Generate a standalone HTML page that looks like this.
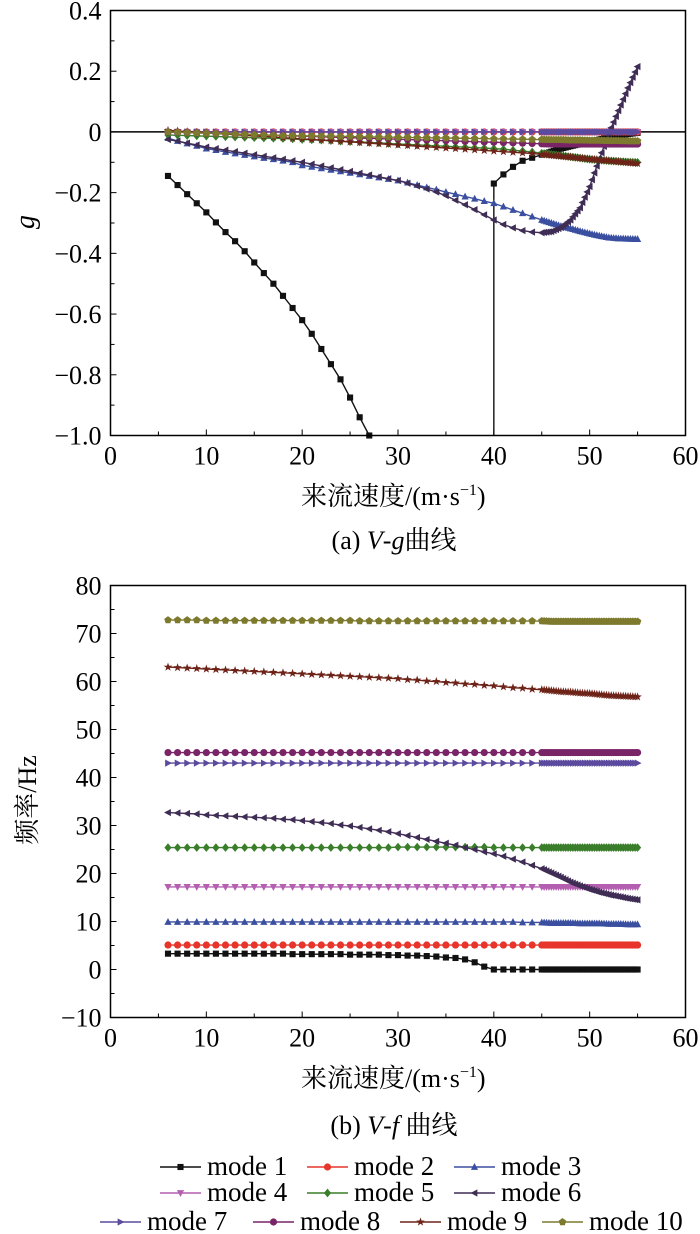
<!DOCTYPE html>
<html><head><meta charset="utf-8"><style>
body{margin:0;background:#fff;}
svg{display:block;font-family:"Liberation Serif","Noto Serif CJK SC",serif;}
</style></head><body>
<svg id="chart" width="700" height="1234" viewBox="0 0 700 1234"></svg>
<script>
const speeds=[6,7,8,9,10,11,12,13,14,15,16,17,18,19,20,21,22,23,24,25,26,27,28,29,30,31,32,33,34,35,36,37,38,39,40,41,42,43,44,45,46,47,48,49,50,51,52,53,54,55];
const xTicks=[0,10,20,30,40,50,60];
const gTicks=[0.4,0.2,0,-0.2,-0.4,-0.6,-0.8,-1.0];
const gTickLabels=["0.4","0.2","0","\u22120.2","\u22120.4","\u22120.6","\u22120.8","\u22121.0"];
const fTicks=[80,70,60,50,40,30,20,10,0,-10];
const fTickLabels=["80","70","60","50","40","30","20","10","0","\u221210"];
const modeNames=["mode 1","mode 2","mode 3","mode 4","mode 5","mode 6","mode 7","mode 8","mode 9","mode 10"];
const N=null;
// damping g
const g1=[-0.145,-0.175,-0.205,-0.235,-0.265,-0.298,-0.33,-0.36,-0.393,-0.43,-0.465,-0.5,-0.54,-0.58,-0.62,-0.665,-0.715,-0.765,-0.815,-0.875,-0.94,-1.0,N,N,N,N,N,N,N,N,N,N,N,N,-0.17,-0.14,-0.115,-0.095,-0.085,-0.075,-0.065,-0.055,-0.047,-0.04,-0.032,-0.025,-0.018,-0.012,-0.007,-0.003];
const g2=[0,0,0,0,0,0,0,0,0,0,0,0,0,0,0,0,0,0,0,0,0,0,0,0,0,0,0,0,0,0,0,0,0,0,0,0,0,0,0,0,0,0,0,0,0,0,0,0,0,0];
const g3=[-0.02,-0.03,-0.038,-0.046,-0.055,-0.06,-0.066,-0.071,-0.076,-0.081,-0.086,-0.09,-0.095,-0.1,-0.11,-0.115,-0.12,-0.125,-0.13,-0.135,-0.14,-0.145,-0.15,-0.155,-0.16,-0.167,-0.175,-0.183,-0.19,-0.198,-0.205,-0.213,-0.22,-0.228,-0.235,-0.246,-0.257,-0.268,-0.279,-0.29,-0.3,-0.31,-0.318,-0.327,-0.335,-0.342,-0.348,-0.351,-0.352,-0.353];
const g4=[0,0,0,0,0,0,0,0,0,0,0,0,0,0,0,0,0,0,0,0,0,0,0,0,0,0,0,0,0,0,0,0,0,0,0,0,0,0,0,0,0,0,0,0,0,0,0,0,0,0];
const g5=[-0.01,-0.011,-0.012,-0.013,-0.014,-0.015,-0.016,-0.017,-0.018,-0.019,-0.02,-0.021,-0.022,-0.023,-0.025,-0.026,-0.027,-0.029,-0.031,-0.032,-0.033,-0.035,-0.036,-0.038,-0.04,-0.041,-0.043,-0.044,-0.046,-0.047,-0.049,-0.05,-0.052,-0.053,-0.055,-0.057,-0.06,-0.063,-0.066,-0.07,-0.074,-0.078,-0.082,-0.086,-0.09,-0.093,-0.095,-0.097,-0.099,-0.1];
const g6=[-0.025,-0.03,-0.037,-0.043,-0.05,-0.055,-0.06,-0.065,-0.07,-0.075,-0.08,-0.085,-0.09,-0.095,-0.1,-0.106,-0.112,-0.118,-0.124,-0.13,-0.136,-0.142,-0.148,-0.154,-0.16,-0.169,-0.178,-0.188,-0.198,-0.21,-0.225,-0.24,-0.256,-0.273,-0.29,-0.305,-0.316,-0.325,-0.33,-0.332,-0.328,-0.315,-0.29,-0.25,-0.18,-0.09,-0.005,0.07,0.145,0.215];
const g7=[0,0,0,0,0,0,0,0,0,0,0,0,0,0,0,0,0,0,0,0,0,0,0,0,0,0,0,0,0,0,0,0,0,0,0,0,0,0,0,0,0,0,0,0,0,0,0,0,0,0];
const g8=[0,-0.001,-0.002,-0.003,-0.004,-0.005,-0.006,-0.007,-0.008,-0.009,-0.01,-0.011,-0.012,-0.013,-0.014,-0.015,-0.016,-0.017,-0.018,-0.019,-0.02,-0.021,-0.022,-0.023,-0.024,-0.025,-0.026,-0.027,-0.028,-0.029,-0.03,-0.031,-0.032,-0.033,-0.034,-0.035,-0.036,-0.037,-0.038,-0.039,-0.04,-0.04,-0.04,-0.04,-0.04,-0.04,-0.04,-0.04,-0.04,-0.04];
const g9=[0.005,0.003,0.001,-0.001,-0.003,-0.005,-0.007,-0.009,-0.011,-0.013,-0.015,-0.017,-0.019,-0.021,-0.023,-0.025,-0.027,-0.029,-0.031,-0.033,-0.035,-0.037,-0.039,-0.041,-0.043,-0.045,-0.047,-0.049,-0.051,-0.053,-0.055,-0.057,-0.059,-0.061,-0.063,-0.065,-0.067,-0.069,-0.071,-0.074,-0.077,-0.08,-0.083,-0.086,-0.089,-0.092,-0.095,-0.098,-0.101,-0.104];
const g10=[0,-0.001,-0.002,-0.003,-0.004,-0.005,-0.006,-0.007,-0.008,-0.009,-0.01,-0.011,-0.012,-0.012,-0.013,-0.013,-0.014,-0.014,-0.015,-0.015,-0.016,-0.016,-0.017,-0.017,-0.018,-0.018,-0.019,-0.019,-0.02,-0.02,-0.021,-0.021,-0.022,-0.022,-0.023,-0.023,-0.024,-0.024,-0.025,-0.025,-0.026,-0.026,-0.027,-0.027,-0.028,-0.028,-0.029,-0.029,-0.03,-0.03];
// frequency f
const f1=[3.3,3.3,3.3,3.3,3.3,3.3,3.3,3.3,3.3,3.3,3.3,3.3,3.3,3.2,3.2,3.2,3.2,3.2,3.2,3.1,3.1,3.1,3.1,3.0,3.0,2.9,2.9,2.8,2.7,2.5,2.4,2.1,1.5,0.6,0,0,0,0,0,0,0,0,0,0,0,0,0,0,0,0];
const f2=[5.1,5.1,5.1,5.1,5.1,5.1,5.1,5.1,5.1,5.1,5.1,5.1,5.1,5.1,5.1,5.1,5.1,5.1,5.1,5.1,5.1,5.1,5.1,5.1,5.1,5.1,5.1,5.1,5.1,5.1,5.1,5.1,5.1,5.1,5.1,5.1,5.1,5.1,5.1,5.1,5.1,5.1,5.1,5.1,5.1,5.1,5.1,5.1,5.1,5.1];
const f3=[9.9,9.9,9.9,9.9,9.9,9.9,9.9,9.9,9.9,9.9,9.9,9.9,9.9,9.9,9.9,9.9,9.9,9.9,9.9,9.9,9.9,9.9,9.9,9.9,9.9,9.9,9.9,9.9,9.9,9.9,9.9,9.9,9.9,9.9,9.9,9.9,9.9,9.8,9.8,9.8,9.7,9.7,9.7,9.6,9.6,9.6,9.5,9.5,9.4,9.4];
const f4=[17.2,17.2,17.2,17.2,17.2,17.2,17.2,17.2,17.2,17.2,17.2,17.2,17.2,17.2,17.2,17.2,17.2,17.2,17.2,17.2,17.2,17.2,17.2,17.2,17.2,17.2,17.2,17.2,17.2,17.2,17.2,17.2,17.2,17.2,17.2,17.2,17.2,17.2,17.2,17.2,17.2,17.2,17.2,17.2,17.2,17.2,17.2,17.2,17.2,17.2];
const f5=[25.4,25.4,25.4,25.4,25.4,25.4,25.4,25.4,25.4,25.4,25.4,25.4,25.4,25.4,25.4,25.4,25.4,25.4,25.4,25.4,25.4,25.4,25.4,25.4,25.5,25.5,25.5,25.5,25.5,25.5,25.5,25.5,25.5,25.5,25.4,25.4,25.4,25.4,25.4,25.4,25.4,25.4,25.4,25.4,25.4,25.4,25.4,25.4,25.4,25.4];
const f6=[32.7,32.6,32.5,32.4,32.2,32.1,32.0,31.9,31.8,31.7,31.6,31.5,31.3,31.2,31.0,30.8,30.6,30.4,30.1,29.9,29.6,29.3,29.0,28.7,28.3,27.9,27.5,27.1,26.7,26.3,25.9,25.4,25.0,24.5,24.1,23.6,23.0,22.4,21.7,21.0,20.1,19.2,18.2,17.4,16.7,16.1,15.6,15.2,14.8,14.5];
const f7=[43.0,43.0,43.0,43.0,43.0,43.0,43.0,43.0,43.0,43.0,43.0,43.0,43.0,43.0,43.0,43.0,43.0,43.0,43.0,43.0,43.0,43.0,43.0,43.0,43.0,43.0,43.0,43.0,43.0,43.0,43.0,43.0,43.0,43.0,43.0,43.0,43.0,43.0,43.0,43.0,43.0,43.0,43.0,43.0,43.0,43.0,43.0,43.0,43.0,43.0];
const f8=[45.2,45.2,45.2,45.2,45.2,45.2,45.2,45.2,45.2,45.2,45.2,45.2,45.2,45.2,45.2,45.2,45.2,45.2,45.2,45.2,45.2,45.2,45.2,45.2,45.2,45.2,45.2,45.2,45.2,45.2,45.2,45.2,45.2,45.2,45.2,45.2,45.2,45.2,45.2,45.2,45.2,45.2,45.2,45.2,45.2,45.2,45.2,45.2,45.2,45.2];
const f9=[63.0,62.9,62.8,62.7,62.6,62.5,62.4,62.3,62.2,62.1,62.0,61.9,61.8,61.7,61.6,61.5,61.4,61.3,61.2,61.1,61.0,60.9,60.8,60.7,60.6,60.4,60.3,60.1,60.0,59.8,59.7,59.5,59.4,59.2,59.1,58.9,58.7,58.6,58.4,58.3,58.1,57.9,57.8,57.6,57.5,57.3,57.1,57.0,56.9,56.8];
const f10=[72.8,72.8,72.8,72.8,72.7,72.7,72.7,72.7,72.7,72.7,72.7,72.7,72.7,72.7,72.7,72.7,72.7,72.7,72.7,72.7,72.6,72.6,72.6,72.6,72.6,72.6,72.6,72.6,72.6,72.6,72.6,72.6,72.6,72.6,72.6,72.6,72.6,72.6,72.6,72.6,72.5,72.5,72.5,72.5,72.5,72.5,72.5,72.5,72.5,72.5];
const gSeries=[g1,g2,g3,g4,g5,g6,g7,g8,g9,g10];
const fSeries=[f1,f2,f3,f4,f5,f6,f7,f8,f9,f10];

const colors=["#111","#e8352b","#3b4fa0","#b45fb0","#3a7d2a","#3f2d55","#5b4a9e","#7a2468","#6e2318","#7d7a2e"];
const shapes=["square","circle","up","down","diamond","left","right","circle","star","pent"];
const NS="http://www.w3.org/2000/svg";
const svg=document.getElementById('chart');
function el(t,a,p){const e=document.createElementNS(NS,t);for(const k in a)e.setAttribute(k,a[k]);(p||svg).appendChild(e);return e;}
function marker(shape,x,y,c,g,s){
  s=s||3.6;let e;
  if(shape==="square")e=el('rect',{x:x-s*0.85,y:y-s*0.85,width:s*1.7,height:s*1.7,fill:c},g);
  else if(shape==="circle")e=el('circle',{cx:x,cy:y,r:s,fill:c},g);
  else{let pts;
    if(shape==="up")pts=[[0,-s*1.1],[s,s*0.8],[-s,s*0.8]];
    else if(shape==="down")pts=[[0,s*1.1],[s,-s*0.8],[-s,-s*0.8]];
    else if(shape==="left")pts=[[-s*1.1,0],[s*0.8,-s],[s*0.8,s]];
    else if(shape==="right")pts=[[s*1.1,0],[-s*0.8,-s],[-s*0.8,s]];
    else if(shape==="diamond")pts=[[0,-s*1.2],[s,0],[0,s*1.2],[-s,0]];
    else if(shape==="pent"){pts=[];for(let i=0;i<5;i++){const a=-Math.PI/2+i*2*Math.PI/5;pts.push([s*1.1*Math.cos(a),s*1.1*Math.sin(a)]);}}
    else {pts=[];for(let i=0;i<10;i++){const a=-Math.PI/2+i*Math.PI/5;const r=i%2?s*0.5:s*1.25;pts.push([r*Math.cos(a),r*Math.sin(a)]);}}
    e=el('polygon',{points:pts.map(p=>(x+p[0])+","+(y+p[1])).join(" "),fill:c},g);}
  
  
  return e;
}
function makeChart(opt){
  const L=110.5,R=685.5,T=opt.top,B=opt.bottom;
  const xs=v=>L+(v-0)/(60-0)*(R-L);
  const ys=v=>T+(opt.ymax-v)/(opt.ymax-opt.ymin)*(B-T);
  const g=el('g',{});
  
  
  xTicks.forEach((t,i)=>{
    const tk=el('line',{x1:xs(t),x2:xs(t),y1:B,y2:B-6,stroke:'#000','stroke-width':1},g);
    
    if(i<xTicks.length-1){const m=el('line',{x1:xs(t+5),x2:xs(t+5),y1:B,y2:B-4,stroke:'#000','stroke-width':1},g);
      }
    const tl=el('text',{x:xs(t),y:B+29,'text-anchor':'middle','font-size':26},g);tl.textContent=t;
    
  });
  opt.ticks.forEach((t,i)=>{
    const tk=el('line',{x1:L,x2:L+6,y1:ys(t),y2:ys(t),stroke:'#000','stroke-width':1},g);
    
    if(i<opt.ticks.length-1){const mv=(t+opt.ticks[i+1])/2;const m=el('line',{x1:L,x2:L+4,y1:ys(mv),y2:ys(mv),stroke:'#000','stroke-width':1},g);
      }
    const tl=el('text',{x:L-9,y:ys(t)+9,'text-anchor':'end','font-size':26},g);tl.textContent=opt.labels[i];
    
  });
  if(opt.zeroLine){const z=el('line',{x1:L,x2:R,y1:ys(0),y2:ys(0),stroke:'#000','stroke-width':1.5},g);
    }
  opt.series.forEach((arr,si)=>{
    const sg=el('g',{},g);
    
    
    let d="",pen=false,gap=false;
    arr.forEach((v,i)=>{
      if(v===null){pen=false;gap=true;return;}
      if(!pen){ if(gap&&opt.dropGap){d+="M"+xs(speeds[i])+","+B+"L"+xs(speeds[i])+","+ys(v);} else d+="M"+xs(speeds[i])+","+ys(v);}
      else d+="L"+xs(speeds[i])+","+ys(v);
      pen=true;gap=false;
    });
    const p=el('path',{d:d,fill:'none',stroke:colors[si],'stroke-width':1.4},sg);
    
    arr.forEach((v,i)=>{if(v===null)return;const x=xs(speeds[i]);
      marker(shapes[si],x,ys(v),colors[si],sg);
      if(speeds[i]>=45&&i<arr.length-1&&arr[i+1]!==null){
        for(let k=1;k<4;k++){const t=k/4;marker(shapes[si],x+t*(xs(speeds[i+1])-x),ys(v+t*(arr[i+1]-v)),colors[si],sg);}
      }});
  });
  const fr=el('rect',{x:L,y:T,width:R-L,height:B-T,fill:'none',stroke:'#000','stroke-width':1.5},g);
  
}
makeChart({name:'vg-plot',top:10.5,bottom:435.5,ymax:0.4,ymin:-1.0,ticks:gTicks,labels:gTickLabels,series:gSeries,zeroLine:true,dropGap:true});
makeChart({name:'vf-plot',top:585.5,bottom:1017.5,ymax:80,ymin:-10,ticks:fTicks,labels:fTickLabels,series:fSeries,zeroLine:false,dropGap:false});

function txt(a,name){const t=el('text',a);return t;}
const xt='来流速度/(m·s<tspan dy="-10" font-size="16">−1</tspan><tspan dy="10">)</tspan>';
txt({x:301,y:505,'font-size':26},'x-axis-title-top').innerHTML=xt;
txt({x:301,y:1087,'font-size':26},'x-axis-title-bottom').innerHTML=xt;
txt({x:0,y:0,'font-size':28,'font-style':'italic',transform:'translate(34,222) rotate(-90)','text-anchor':'middle'},'y-axis-title-top').textContent="g";
txt({x:0,y:0,'font-size':26,transform:'translate(36,800) rotate(-90)','text-anchor':'middle'},'y-axis-title-bottom').textContent="频率/Hz";
txt({x:394,y:549,'font-size':26,'text-anchor':'middle'},'caption-a').innerHTML='(a) <tspan font-style="italic">V</tspan>-<tspan font-style="italic">g</tspan>曲线';
txt({x:394,y:1134,'font-size':26,'text-anchor':'middle'},'caption-b').innerHTML='(b) <tspan font-style="italic">V</tspan>-<tspan font-style="italic">f</tspan> 曲线';

const legendPos=[[160,1175],[307,1175],[454,1175],[160,1201],[307,1201],[454,1201],[100,1230],[253,1230],[400,1230],[542,1230]];
modeNames.forEach((n,i)=>{
  const lg=el('g',{});
  
  
  const [x,y]=legendPos[i];
  const ln=el('line',{x1:x,x2:x+41,y1:y-8,y2:y-8,stroke:colors[i],'stroke-width':1.4},lg);
  
  marker(shapes[i],x+20.5,y-8,colors[i],lg);
  const t=el('text',{x:x+47,y:y,'font-size':27},lg);t.textContent=n;
  
});
</script>
</body></html>
